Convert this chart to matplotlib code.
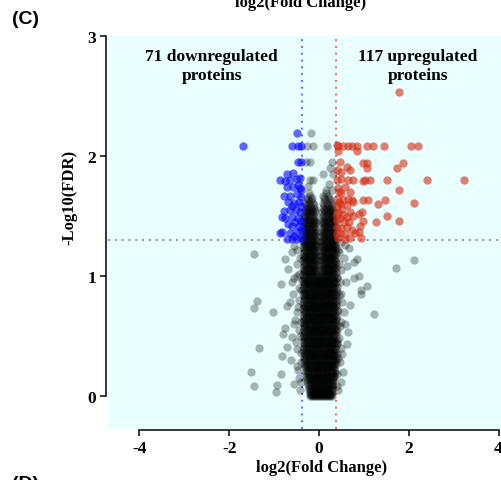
import matplotlib
matplotlib.use("Agg")
import matplotlib.pyplot as plt

plt.rcParams["font.family"] = "serif"
plt.rcParams["font.serif"] = ["Liberation Serif", "DejaVu Serif"]
plt.rcParams["font.weight"] = "bold"
plt.rcParams["axes.unicode_minus"] = False

# upregulated proteins (log2 FC, -log10 FDR)
up_fc = [1.78, 0.42, 0.54, 0.65, 0.73, 0.84, 1.06, 1.20, 1.45, 2.04, 2.21, 0.39, 0.84, 0.43,
         0.99, 1.06, 1.88, 1.73, 1.08, 0.47, 0.62, 0.50, 0.69, 0.39, 0.50, 0.65, 0.76, 0.99,
         1.02, 1.14, 1.51, 2.40, 3.24, 0.43, 0.58, 0.50, 0.69, 1.79, 0.39, 0.54, 0.65, 0.47,
         0.62, 0.76, 0.73, 0.99, 1.10, 1.47, 1.32, 2.12, 0.43, 0.54, 0.69, 0.47, 0.62, 0.76,
         0.88, 0.95, 1.51, 1.79, 1.27, 0.97, 0.91, 0.39, 0.50, 0.62, 0.73, 0.47, 0.58, 0.80,
         0.88, 0.43, 0.58, 0.69, 0.93, 0.41, 0.40, 0.41, 0.45, 0.40, 0.55, 0.52, 0.44, 0.66,
         0.40]
up_fdr = [2.53, 2.08, 2.08, 2.08, 2.08, 2.08, 2.08, 2.08, 2.08, 2.08, 2.08, 2.09, 2.04, 2.04,
          1.94, 1.94, 1.94, 1.90, 1.90, 1.95, 1.91, 1.87, 1.88, 1.80, 1.81, 1.80, 1.80, 1.79,
          1.80, 1.80, 1.80, 1.80, 1.80, 1.73, 1.74, 1.69, 1.70, 1.72, 1.64, 1.63, 1.64, 1.60,
          1.59, 1.62, 1.63, 1.63, 1.63, 1.63, 1.60, 1.61, 1.53, 1.51, 1.53, 1.48, 1.49, 1.50,
          1.52, 1.53, 1.50, 1.46, 1.45, 1.46, 1.42, 1.41, 1.40, 1.41, 1.38, 1.36, 1.35, 1.36,
          1.37, 1.32, 1.31, 1.32, 1.32, 1.58, 1.47, 1.35, 1.70, 1.88, 1.45, 1.56, 1.62, 1.45,
          1.52]

# downregulated proteins
down_fc = [-1.70, -0.50, -0.61, -0.46, -0.39, -0.46, -0.39, -0.72, -0.57, -0.87, -0.76, -0.65,
           -0.50, -0.42, -0.72, -0.57, -0.43, -0.79, -0.65, -0.50, -0.41, -0.70, -0.55, -0.44,
           -0.40, -0.77, -0.65, -0.52, -0.42, -0.83, -0.76, -0.61, -0.46, -0.40, -0.70, -0.60,
           -0.45, -0.83, -0.65, -0.50, -0.41, -0.87, -0.55, -0.72, -0.60, -0.48, -0.40, -0.53,
           -0.60, -0.47, -0.40]
down_fdr = [2.08, 2.19, 2.08, 2.08, 2.08, 1.95, 1.95, 1.85, 1.86, 1.80, 1.79, 1.80,
            1.81, 1.82, 1.74, 1.74, 1.73, 1.67, 1.67, 1.68, 1.66, 1.62, 1.61, 1.62,
            1.58, 1.54, 1.55, 1.55, 1.53, 1.49, 1.48, 1.49, 1.48, 1.46, 1.43, 1.42,
            1.42, 1.37, 1.36, 1.37, 1.38, 1.36, 1.33, 1.31, 1.31, 1.31, 1.32, 1.45,
            1.58, 1.76, 1.72]

# not significant, scattered ones
ns_fc = [-1.44, -0.85, -1.37, -1.44, -1.03, -1.34, -1.52, -1.44, -0.85, -0.93, -0.96, -0.83,
         -0.76, -0.81, -0.71, -0.65, -0.72, -0.50, -0.61, -0.53, -0.76, -0.68, -0.61,
         -0.55, -0.60, -0.50, -0.55, -0.45, -0.58, -0.48, -0.55, -0.45, -0.62, -0.50, -0.45,
         -0.55, -0.42, -0.48, -0.45, -0.52,
         -0.42, -0.44, -0.41, -0.46, -0.40, -0.43, -0.41, -0.46, -0.40, -0.38, -0.39, -0.50,
         2.12, 1.71, 1.23, 1.08, 0.94, 0.94, 0.84, 0.78, 0.88, 0.78, 0.69, 0.65, 0.62, 0.54,
         0.67, 0.58, 0.50, 0.55, 0.48, 0.60, 0.50, 0.55, 0.48, 0.58, 0.45, 0.52, 0.46, 0.50,
         0.42, 0.47, 0.45, 0.62,
         0.42, 0.45, 0.41, 0.44, 0.42, 0.46, 0.41, 0.43, 0.40, 0.41, 0.52, 0.48,
         -0.18, 0.17, -0.27, -0.13, -0.20, 0.28, 0.25, -0.20, -0.13, 0.22, -0.30, 0.10,
         -0.25, 0.30, 0.15, 0.32]
ns_fdr = [1.18, 0.93, 0.79, 0.73, 0.70, 0.40, 0.20, 0.08, 0.18, 0.09, 0.03, 0.33,
          0.57, 0.52, 0.75, 0.78, 0.41, 0.39, 0.49, 0.63, 1.14, 1.06, 0.95,
          1.25, 1.20, 1.10, 0.98, 0.90, 0.85, 0.70, 0.60, 0.55, 0.30, 0.25, 0.15,
          0.10, 0.05, 1.22, 0.80, 0.45,
          1.15, 1.02, 0.88, 0.74, 0.62, 0.50, 0.36, 0.22, 0.12, 0.96, 0.28, 1.00,
          1.13, 1.07, 0.68, 0.92, 0.88, 0.85, 1.14, 1.12, 1.00, 0.98, 0.76, 0.53, 0.43, 0.20,
          1.23, 1.26, 1.28, 1.15, 1.05, 0.95, 0.85, 0.70, 0.62, 0.60, 0.48, 0.35, 0.28, 0.12,
          0.05, 0.95, 1.20, 1.08,
          1.22, 1.10, 0.98, 0.84, 0.72, 0.58, 0.44, 0.32, 0.18, 0.08, 0.78, 0.40,
          2.19, 2.08, 2.08, 2.08, 1.95, 1.95, 1.90, 1.80, 1.80, 1.77, 1.95, 1.85,
          1.75, 1.72, 1.72, 1.85]

# dense central column of non-significant proteins, one list of log2 FC per FDR level
core_levels = [0.00, 0.02, 0.05, 0.09, 0.13, 0.17, 0.21, 0.25, 0.29, 0.33, 0.37,
               0.41, 0.45, 0.49, 0.53, 0.57, 0.61, 0.65, 0.69, 0.73, 0.77, 0.81,
               0.85, 0.89, 0.93, 0.97, 1.01, 1.05, 1.09, 1.13, 1.17, 1.21, 1.25,
               1.29, 1.33, 1.37, 1.41, 1.45, 1.49, 1.53, 1.57, 1.61, 1.65, 1.69]
core_rows = [
    [-0.20, -0.16, -0.11, -0.07, -0.02, 0.02, 0.07, 0.11, 0.16, 0.20, 0.25, 0.28],
    [-0.21, -0.15, -0.09, -0.04, 0.01, 0.05, 0.10, 0.14, 0.19, 0.23, 0.27],
    [-0.22, -0.17, -0.12, -0.08, -0.03, 0.02, 0.06, 0.12, 0.17, 0.21, 0.26, 0.29],
    [-0.25, -0.20, -0.14, -0.09, -0.05, 0.00, 0.04, 0.09, 0.14, 0.19, 0.24, 0.28, 0.31],
    [-0.26, -0.21, -0.16, -0.11, -0.06, -0.01, 0.04, 0.08, 0.13, 0.18, 0.23, 0.27, 0.32],
    [-0.28, -0.23, -0.17, -0.12, -0.07, -0.02, 0.03, 0.08, 0.12, 0.17, 0.22, 0.27, 0.31, 0.34],
    [-0.30, -0.24, -0.19, -0.14, -0.09, -0.04, 0.01, 0.06, 0.11, 0.16, 0.21, 0.26, 0.30, 0.35],
    [-0.31, -0.26, -0.20, -0.15, -0.10, -0.05, 0.00, 0.05, 0.10, 0.15, 0.20, 0.25, 0.29, 0.34],
    [-0.33, -0.27, -0.22, -0.17, -0.11, -0.06, -0.01, 0.04, 0.09, 0.14, 0.19, 0.24, 0.29, 0.33, 0.37],
    [-0.34, -0.28, -0.23, -0.18, -0.13, -0.08, -0.03, 0.03, 0.08, 0.13, 0.18, 0.23, 0.28, 0.32, 0.36],
    [-0.35, -0.29, -0.24, -0.19, -0.14, -0.09, -0.04, 0.01, 0.06, 0.11, 0.17, 0.22, 0.27, 0.31, 0.36],
    [-0.35, -0.30, -0.25, -0.20, -0.15, -0.10, -0.05, 0.00, 0.05, 0.10, 0.15, 0.20, 0.25, 0.30, 0.35],
    [-0.34, -0.29, -0.24, -0.18, -0.13, -0.08, -0.03, 0.02, 0.07, 0.12, 0.17, 0.22, 0.27, 0.32, 0.37],
    [-0.36, -0.31, -0.26, -0.21, -0.16, -0.11, -0.06, -0.01, 0.04, 0.09, 0.14, 0.19, 0.24, 0.29, 0.34],
    [-0.35, -0.29, -0.23, -0.18, -0.12, -0.07, -0.02, 0.03, 0.08, 0.13, 0.18, 0.23, 0.28, 0.33, 0.37],
    [-0.34, -0.30, -0.25, -0.19, -0.14, -0.09, -0.04, 0.01, 0.06, 0.11, 0.16, 0.21, 0.26, 0.31, 0.36],
    [-0.36, -0.31, -0.26, -0.21, -0.15, -0.10, -0.05, 0.00, 0.05, 0.10, 0.15, 0.21, 0.26, 0.31, 0.35],
    [-0.35, -0.29, -0.24, -0.19, -0.13, -0.08, -0.03, 0.02, 0.07, 0.12, 0.17, 0.22, 0.27, 0.32, 0.37],
    [-0.34, -0.30, -0.25, -0.20, -0.15, -0.10, -0.05, 0.00, 0.06, 0.11, 0.16, 0.20, 0.25, 0.30, 0.35],
    [-0.36, -0.31, -0.26, -0.21, -0.16, -0.11, -0.06, -0.01, 0.04, 0.09, 0.14, 0.19, 0.24, 0.29, 0.34],
    [-0.35, -0.29, -0.24, -0.18, -0.13, -0.08, -0.03, 0.02, 0.07, 0.12, 0.17, 0.22, 0.27, 0.32, 0.37],
    [-0.34, -0.30, -0.25, -0.20, -0.14, -0.09, -0.04, 0.01, 0.06, 0.11, 0.16, 0.21, 0.26, 0.31, 0.36],
    [-0.36, -0.31, -0.26, -0.21, -0.16, -0.11, -0.06, 0.00, 0.05, 0.10, 0.15, 0.20, 0.25, 0.30, 0.35],
    [-0.35, -0.30, -0.24, -0.19, -0.14, -0.09, -0.04, 0.02, 0.07, 0.12, 0.17, 0.22, 0.27, 0.32, 0.37],
    [-0.34, -0.29, -0.25, -0.20, -0.15, -0.10, -0.05, 0.00, 0.05, 0.11, 0.16, 0.21, 0.26, 0.31, 0.36],
    [-0.36, -0.31, -0.26, -0.21, -0.16, -0.11, -0.06, -0.01, 0.04, 0.09, 0.14, 0.19, 0.24, 0.29, 0.34],
    [-0.35, -0.30, -0.25, -0.20, -0.15, -0.10, -0.05, 0.05, 0.10, 0.15, 0.20, 0.25, 0.30, 0.35],
    [-0.36, -0.31, -0.26, -0.21, -0.16, -0.11, -0.06, 0.04, 0.09, 0.14, 0.19, 0.24, 0.29, 0.34],
    [-0.34, -0.29, -0.24, -0.19, -0.14, -0.09, -0.04, 0.06, 0.11, 0.16, 0.21, 0.26, 0.31, 0.36],
    [-0.35, -0.30, -0.25, -0.20, -0.15, -0.10, -0.05, 0.05, 0.10, 0.15, 0.20, 0.25, 0.30, 0.35],
    [-0.36, -0.31, -0.26, -0.21, -0.16, -0.11, -0.06, 0.04, 0.09, 0.14, 0.19, 0.24, 0.29, 0.34],
    [-0.34, -0.29, -0.24, -0.19, -0.14, -0.09, -0.04, 0.06, 0.11, 0.16, 0.21, 0.26, 0.31, 0.36],
    [-0.35, -0.30, -0.25, -0.20, -0.15, -0.10, -0.05, 0.05, 0.10, 0.15, 0.20, 0.25, 0.30, 0.35],
    [-0.36, -0.31, -0.26, -0.21, -0.16, -0.11, -0.06, 0.04, 0.09, 0.14, 0.19, 0.24, 0.29, 0.34],
    [-0.35, -0.29, -0.23, -0.17, -0.12, -0.07, 0.07, 0.12, 0.17, 0.23, 0.29, 0.35],
    [-0.34, -0.28, -0.22, -0.16, -0.11, -0.06, 0.06, 0.11, 0.16, 0.22, 0.28, 0.34],
    [-0.36, -0.30, -0.24, -0.18, -0.13, -0.08, 0.08, 0.13, 0.18, 0.24, 0.30, 0.36],
    [-0.35, -0.29, -0.23, -0.17, -0.12, -0.07, 0.07, 0.12, 0.17, 0.23, 0.29, 0.35],
    [-0.34, -0.28, -0.22, -0.16, -0.10, 0.08, 0.14, 0.20, 0.26, 0.32],
    [-0.33, -0.27, -0.21, -0.15, -0.09, 0.07, 0.13, 0.19, 0.25, 0.31],
    [-0.32, -0.25, -0.18, -0.11, 0.08, 0.15, 0.22, 0.29],
    [-0.30, -0.22, -0.14, 0.10, 0.18, 0.26],
    [-0.26, -0.16, 0.12, 0.22],
    [-0.22, 0.16],
]
# second set of proteins in the column, lying between the levels above
core_levels_b = [0.01, 0.035, 0.07, 0.11, 0.15, 0.19, 0.23, 0.27, 0.31, 0.35, 0.39,
                 0.43, 0.47, 0.51, 0.55, 0.59, 0.63, 0.67, 0.71, 0.75, 0.79, 0.83,
                 0.87, 0.91, 0.95, 0.99, 1.03, 1.07, 1.11, 1.15, 1.19, 1.23, 1.27,
                 1.31, 1.35, 1.39, 1.43, 1.47, 1.51, 1.55, 1.59, 1.63, 1.67]
core_rows_b = [
    [-0.18, -0.13, -0.09, -0.04, 0.00, 0.04, 0.09, 0.13, 0.18, 0.22, 0.26],
    [-0.20, -0.14, -0.10, -0.05, 0.00, 0.04, 0.08, 0.13, 0.17, 0.22, 0.27],
    [-0.23, -0.18, -0.13, -0.07, -0.02, 0.03, 0.08, 0.13, 0.18, 0.23, 0.28],
    [-0.24, -0.18, -0.13, -0.08, -0.03, 0.02, 0.07, 0.12, 0.16, 0.21, 0.26, 0.30],
    [-0.27, -0.22, -0.17, -0.12, -0.07, -0.02, 0.03, 0.08, 0.13, 0.18, 0.23, 0.28, 0.33],
    [-0.29, -0.24, -0.19, -0.14, -0.09, -0.04, 0.01, 0.06, 0.11, 0.16, 0.21, 0.26, 0.31, 0.35],
    [-0.30, -0.25, -0.20, -0.15, -0.10, -0.05, 0.00, 0.05, 0.10, 0.15, 0.20, 0.25, 0.30, 0.34],
    [-0.32, -0.27, -0.22, -0.17, -0.12, -0.07, -0.02, 0.03, 0.08, 0.13, 0.18, 0.23, 0.28, 0.33, 0.37],
    [-0.33, -0.28, -0.22, -0.17, -0.12, -0.07, -0.02, 0.03, 0.08, 0.13, 0.18, 0.23, 0.28, 0.33, 0.38],
    [-0.32, -0.27, -0.21, -0.16, -0.11, -0.06, -0.01, 0.04, 0.09, 0.14, 0.19, 0.24, 0.29, 0.34, 0.39],
    [-0.33, -0.28, -0.23, -0.18, -0.13, -0.08, -0.02, 0.03, 0.08, 0.14, 0.19, 0.24, 0.29, 0.34, 0.38],
    [-0.34, -0.28, -0.22, -0.17, -0.12, -0.07, -0.02, 0.03, 0.08, 0.13, 0.18, 0.23, 0.28, 0.33, 0.39],
    [-0.33, -0.27, -0.22, -0.16, -0.11, -0.06, -0.01, 0.04, 0.09, 0.14, 0.19, 0.24, 0.29, 0.34, 0.40],
    [-0.34, -0.28, -0.23, -0.18, -0.13, -0.08, -0.03, 0.02, 0.07, 0.12, 0.17, 0.22, 0.27, 0.32, 0.38],
    [-0.33, -0.27, -0.21, -0.16, -0.11, -0.06, -0.01, 0.04, 0.09, 0.14, 0.19, 0.25, 0.30, 0.35, 0.40],
    [-0.34, -0.28, -0.22, -0.17, -0.12, -0.07, -0.02, 0.03, 0.08, 0.13, 0.18, 0.23, 0.28, 0.33, 0.39],
    [-0.33, -0.28, -0.23, -0.18, -0.13, -0.08, -0.03, 0.03, 0.08, 0.13, 0.18, 0.24, 0.29, 0.34, 0.38],
    [-0.34, -0.27, -0.22, -0.16, -0.11, -0.06, -0.01, 0.04, 0.09, 0.14, 0.19, 0.24, 0.29, 0.34, 0.40],
    [-0.33, -0.28, -0.23, -0.17, -0.12, -0.07, -0.02, 0.03, 0.08, 0.13, 0.18, 0.23, 0.28, 0.33, 0.39],
    [-0.34, -0.28, -0.22, -0.17, -0.12, -0.07, -0.02, 0.03, 0.08, 0.13, 0.18, 0.23, 0.28, 0.33, 0.38],
    [-0.33, -0.27, -0.21, -0.16, -0.11, -0.06, -0.01, 0.04, 0.09, 0.14, 0.19, 0.25, 0.30, 0.35, 0.40],
    [-0.34, -0.28, -0.23, -0.18, -0.13, -0.08, -0.03, 0.02, 0.07, 0.12, 0.17, 0.22, 0.27, 0.32, 0.38],
    [-0.33, -0.28, -0.22, -0.17, -0.12, -0.07, -0.02, 0.03, 0.08, 0.13, 0.18, 0.23, 0.28, 0.33, 0.39],
    [-0.34, -0.27, -0.22, -0.16, -0.11, -0.06, -0.01, 0.04, 0.09, 0.14, 0.19, 0.24, 0.29, 0.34, 0.40],
    [-0.33, -0.28, -0.23, -0.17, -0.12, -0.07, -0.02, 0.03, 0.08, 0.13, 0.18, 0.23, 0.28, 0.33, 0.38],
    [-0.34, -0.28, -0.22, -0.17, -0.12, -0.07, -0.02, 0.03, 0.08, 0.13, 0.18, 0.23, 0.28, 0.33, 0.39],
    [-0.33, -0.28, -0.23, -0.18, -0.13, -0.08, 0.07, 0.12, 0.17, 0.22, 0.27, 0.32, 0.37],
    [-0.34, -0.27, -0.22, -0.17, -0.12, -0.07, 0.08, 0.13, 0.18, 0.23, 0.28, 0.33, 0.38],
    [-0.33, -0.28, -0.23, -0.18, -0.13, -0.08, 0.07, 0.12, 0.17, 0.22, 0.27, 0.32, 0.37],
    [-0.34, -0.28, -0.22, -0.17, -0.12, -0.07, 0.08, 0.13, 0.18, 0.23, 0.28, 0.33, 0.38],
    [-0.33, -0.27, -0.22, -0.17, -0.12, -0.08, 0.07, 0.12, 0.17, 0.22, 0.27, 0.32, 0.37],
    [-0.34, -0.28, -0.23, -0.18, -0.13, -0.08, 0.08, 0.13, 0.18, 0.23, 0.28, 0.33, 0.37],
    [-0.33, -0.28, -0.22, -0.17, -0.12, -0.07, 0.07, 0.12, 0.17, 0.22, 0.27, 0.32, 0.36],
    [-0.34, -0.28, -0.23, -0.18, -0.13, -0.08, 0.08, 0.13, 0.18, 0.23, 0.28, 0.33, 0.36],
    [-0.32, -0.26, -0.20, -0.14, -0.09, 0.09, 0.14, 0.20, 0.26, 0.32],
    [-0.33, -0.27, -0.21, -0.15, -0.10, 0.10, 0.15, 0.21, 0.27, 0.33],
    [-0.32, -0.26, -0.20, -0.14, -0.09, 0.09, 0.14, 0.20, 0.26, 0.32],
    [-0.33, -0.27, -0.20, -0.14, -0.09, 0.10, 0.16, 0.22, 0.28, 0.34],
    [-0.31, -0.25, -0.19, -0.13, 0.10, 0.17, 0.23, 0.30],
    [-0.30, -0.23, -0.16, -0.10, 0.11, 0.18, 0.25, 0.31],
    [-0.28, -0.20, -0.12, 0.12, 0.20, 0.28],
    [-0.25, -0.17, 0.14, 0.24],
    [-0.20, 0.10, 0.20],
]

fc_cut = 0.378
fdr_cut = 1.301

core_fc = []
core_fdr = []
for levels, rows in [(core_levels, core_rows), (core_levels_b, core_rows_b)]:
    for lev, row in zip(levels, rows):
        core_fc.extend(row)
        core_fdr.extend([lev] * len(row))

fig = plt.figure(figsize=(5.02, 4.81), dpi=100)
ax = fig.add_axes([0.2151, 0.1060, 0.7849, 0.8170])
ax.set_facecolor("#EAFFFF")

dot = (0, (1, 2.5))
ax.axvline(-fc_cut, color="#6464FF", lw=1.4, ls=dot, zorder=1)
ax.axvline(fc_cut, color="#E86A50", lw=1.4, ls=dot, zorder=1)
ax.axhline(fdr_cut, color="#8C9696", lw=1.4, ls=dot, zorder=1)

ax.scatter(core_fc, core_fdr, s=36, color="black", alpha=0.3, linewidths=0, zorder=2)
ax.scatter(ns_fc, ns_fdr, s=36, color="black", alpha=0.3, linewidths=0, zorder=2)
ax.scatter(down_fc, down_fdr, s=36, color="#0000FF", alpha=0.6, linewidths=0, zorder=3)
ax.scatter(up_fc, up_fdr, s=36, color="#D72B11", alpha=0.6, linewidths=0, zorder=3)

ax.text(-2.39, 2.757, "71 downregulated\nproteins", ha="center", va="center",
        fontsize=12.5, fontweight="bold", linespacing=1.25)
ax.text(2.2, 2.757, "117 upregulated\nproteins", ha="center", va="center",
        fontsize=12.5, fontweight="bold", linespacing=1.25)

ax.set_xlim(-4.70, 4.076)
ax.set_ylim(-0.276, 3.0)
ax.set_xticks([-4, -2, 0, 2, 4])
ax.set_xticklabels(["-4", "-2", "0", "2", "4"])
ax.set_yticks([0, 1, 2, 3])

for side in ["top", "right"]:
    ax.spines[side].set_visible(False)
ax.spines["left"].set_bounds(0, 3)
ax.spines["bottom"].set_bounds(-4, 4)
ax.spines["left"].set_position(("outward", 1.5))
ax.spines["bottom"].set_position(("outward", 1))
ax.spines["left"].set_linewidth(1.1)
ax.spines["bottom"].set_linewidth(1.1)
ax.tick_params(length=4, width=1.1, labelsize=12.5, pad=3)

ax.set_xlabel("log2(Fold Change)", fontsize=12, fontweight="bold")
ax.xaxis.set_label_coords(0.5424, -0.0763)
ax.set_ylabel("-Log10(FDR)", fontsize=12, fontweight="bold")
ax.yaxis.set_label_coords(-0.078, 0.593)

# panel letters and the cut-off label of the panel above
fig.text(12 / 502, 1 - 20 / 481, "(C)", fontsize=14, fontweight="bold",
         family="Liberation Sans", va="center", ha="left")
fig.text(301 / 502, 1 - 7 / 481, "log2(Fold Change)", fontsize=12, fontweight="bold",
         va="baseline", ha="center")
fig.text(12 / 502, 5 / 481, "(D)", fontsize=14, fontweight="bold",
         family="Liberation Sans", va="top", ha="left")

fig.savefig("out.png", dpi=100)
